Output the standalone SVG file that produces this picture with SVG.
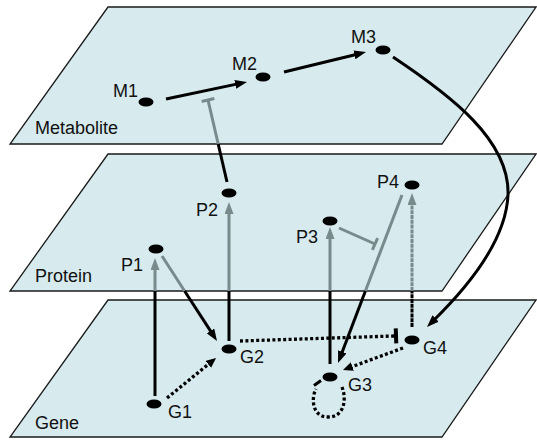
<svg xmlns="http://www.w3.org/2000/svg" width="537" height="442" viewBox="0 0 537 442">
<style>
.plane{fill:#d7ebee;stroke:#1a1a1a;stroke-width:1.3}
text{font-family:"Liberation Sans",Arial,sans-serif;font-size:18px;fill:#111}
.node{fill:#000}
.e{fill:none;stroke:#000;stroke-width:3}
.g{stroke:#788a8b}
.dot{stroke-dasharray:3 2.4;stroke-width:3.3}
.fine{stroke-dasharray:4 0.8}
</style>
<defs>
<marker id="ab" markerUnits="userSpaceOnUse" viewBox="0 0 12 9" markerWidth="12" markerHeight="9" refX="5" refY="4.5" orient="auto"><path d="M0,0 L12,4.5 L0,9 Z" fill="#000"/></marker>
<marker id="ag" markerUnits="userSpaceOnUse" viewBox="0 0 12 9" markerWidth="12" markerHeight="9" refX="5" refY="4.5" orient="auto"><path d="M0,0 L12,4.5 L0,9 Z" fill="#788a8b"/></marker>
<marker id="ad" markerUnits="userSpaceOnUse" viewBox="0 0 10 9" markerWidth="10" markerHeight="9" refX="4" refY="4.5" orient="auto"><path d="M0,0 L10,4.5 L0,9 Z" fill="#000"/></marker>
<marker id="tg" markerUnits="userSpaceOnUse" viewBox="-8 -8 16 16" markerWidth="16" markerHeight="16" refX="0" refY="0" orient="auto"><rect x="-1.5" y="-6.5" width="3" height="13" fill="#788a8b"/></marker>
<marker id="tb" markerUnits="userSpaceOnUse" viewBox="-8 -8 16 16" markerWidth="16" markerHeight="16" refX="0" refY="0" orient="auto"><rect x="0" y="-7.5" width="4" height="15" fill="#000"/></marker>
</defs>
<g id="planes">
<polygon class="plane" points="108,300 536,300 442,437 10,437"/>
<polygon class="plane" points="108,154 536,154 442,291 10,291"/>
<polygon class="plane" points="108,7 536,7 442,144 10,144"/>
<text x="35" y="134">Metabolite</text>
<text x="35" y="282">Protein</text>
<text x="35" y="429">Gene</text>
</g>
<g id="connectors">
<path class="e" d="M166,99 L240.2,83.4" marker-end="url(#ab)"/>
<path class="e" d="M284,72 L359.2,53.7" marker-end="url(#ab)"/>
<path class="e" d="M393,57 C450,95 510,140 508,195 C506,240 470,285 432,322" marker-end="url(#ab)"/>
<path class="e" d="M227,182 L218.2,144"/>
<path class="e g" d="M218.2,144 L208,100" marker-end="url(#tg)"/>
<path class="e" d="M155,396 V291"/>
<path class="e g" d="M155,291 V265" marker-end="url(#ag)"/>
<path class="e" d="M229,341 V291"/>
<path class="e g" d="M229,291 V209" marker-end="url(#ag)"/>
<path class="e" d="M330,364 V291"/>
<path class="e g" d="M330,291 V234" marker-end="url(#ag)"/>
<path class="e fine" d="M412,327 V291"/>
<path class="e g fine" d="M412,291 V200" marker-end="url(#ag)"/>
<path class="e g" d="M162,256 L184.6,291"/>
<path class="e" d="M184.6,291 L213.2,335.1" marker-end="url(#ab)"/>
<path class="e g" d="M402,195 L365.4,291"/>
<path class="e" d="M365.4,291 L340.5,356.5" marker-end="url(#ab)"/>
<path class="e g" d="M339,228 L375,244" marker-end="url(#tg)"/>
<path class="e dot" d="M167,398 L211.4,361.8" marker-end="url(#ad)"/>
<path class="e dot" d="M403,348 L348.6,367.9" marker-end="url(#ad)"/>
<path class="e dot" d="M240,341 L394,336" marker-end="url(#tb)"/>
<path class="e dot" d="M342,387 C347,400 344,417 328,417 C312,417 311,398 316,389"/>
<path class="e" stroke-width="3.5" d="M314,385.5 L321,380.5"/>
</g>
<g id="node-M1"><ellipse class="node" cx="146" cy="102" rx="7.5" ry="4.5"/><text x="113" y="97">M1</text></g>
<g id="node-M2"><ellipse class="node" cx="263" cy="77" rx="7.5" ry="4.5"/><text x="232" y="70">M2</text></g>
<g id="node-M3"><ellipse class="node" cx="383" cy="50" rx="7.5" ry="4.5"/><text x="351" y="43">M3</text></g>
<g id="node-P1"><ellipse class="node" cx="156" cy="249" rx="7.5" ry="4.5"/><text x="121" y="271">P1</text></g>
<g id="node-P2"><ellipse class="node" cx="229" cy="193" rx="7.5" ry="4.5"/><text x="196" y="216">P2</text></g>
<g id="node-P3"><ellipse class="node" cx="330" cy="221" rx="7.5" ry="4.5"/><text x="296" y="243">P3</text></g>
<g id="node-P4"><ellipse class="node" cx="412" cy="185" rx="7.5" ry="4.5"/><text x="377" y="188">P4</text></g>
<g id="node-G1"><ellipse class="node" cx="154" cy="404" rx="7.5" ry="4.5"/><text x="168" y="418">G1</text></g>
<g id="node-G2"><ellipse class="node" cx="229" cy="349" rx="7.5" ry="4.5"/><text x="240" y="363">G2</text></g>
<g id="node-G3"><ellipse class="node" cx="330" cy="377" rx="7.5" ry="4.5"/><text x="348" y="391">G3</text></g>
<g id="node-G4"><ellipse class="node" cx="412" cy="340" rx="7.5" ry="4.5"/><text x="423" y="354">G4</text></g>
</svg>
